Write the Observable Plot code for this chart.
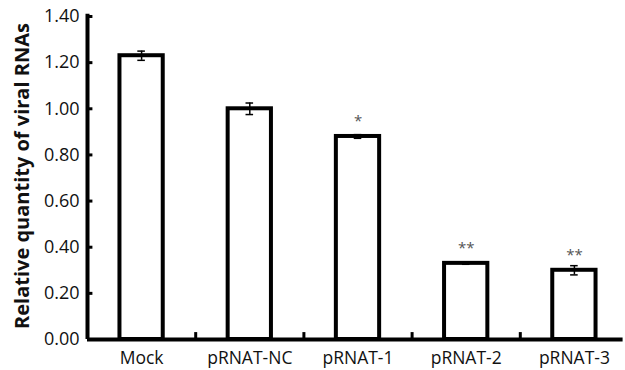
<!DOCTYPE html>
<html>
<head>
<meta charset="utf-8">
<script src="https://cdn.jsdelivr.net/npm/d3@7"></script>
<script src="https://cdn.jsdelivr.net/npm/@observablehq/plot@0.6"></script>
<style>
  body { margin: 0; background: #fff; }
  svg { font-family: "Open Sans", sans-serif; }
</style>
</head>
<body>
<div id="chart"></div>
<script>
const categories = ["Mock", "pRNAT-NC", "pRNAT-1", "pRNAT-2", "pRNAT-3"];
const values = [1.23, 1.00, 0.88, 0.33, 0.30];
const errors = [0.02, 0.025, 0.008, 0.004, 0.02];
const stars = ["", "", "*", "**", "**"];
const yTicks = [0, 0.2, 0.4, 0.6, 0.8, 1.0, 1.2, 1.4];

const data = categories.map((c, i) => ({i, c, v: values[i], e: errors[i], s: stars[i]}));
const halfBar = 0.2, cap = 0.035;
const boundaries = categories.slice(1).map((_, i) => i + 0.5);

const chart = Plot.plot({
  width: 625,
  height: 370,
  marginLeft: 87,
  marginRight: -3,
  marginTop: 16,
  marginBottom: 31,
  x: {domain: [-0.5, 4.5], axis: null},
  y: {domain: [0, 1.4], axis: null},
  marks: [
    Plot.rectY(data, {x1: d => d.i - halfBar, x2: d => d.i + halfBar, y1: 0, y2: "v", fill: "white", stroke: "black", strokeWidth: 4}),
    Plot.ruleX(data, {x: "i", y1: d => d.v - d.e, y2: d => d.v + d.e, stroke: "black", strokeWidth: 1.5}),
    Plot.ruleY(data, {y: d => d.v - d.e, x1: d => d.i - cap, x2: d => d.i + cap, stroke: "black", strokeWidth: 1.5}),
    Plot.ruleY(data, {y: d => d.v + d.e, x1: d => d.i - cap, x2: d => d.i + cap, stroke: "black", strokeWidth: 1.5}),
    Plot.text(data, {x: "i", y: "v", text: "s", dy: -15, fontSize: 15, fill: "#555"}),
    Plot.ruleY([0], {x1: -0.5, x2: 4.45, stroke: "black", strokeWidth: 4}),
    Plot.ruleX([-0.5], {y1: 0, y2: 1.41, stroke: "black", strokeWidth: 4}),
    Plot.ruleY(yTicks, {x1: -0.5, x2: -0.45, stroke: "black", strokeWidth: 3}),
    Plot.ruleX(boundaries, {y1: 0, y2: 0.03, stroke: "black", strokeWidth: 3}),
    Plot.text(yTicks, {x: -0.5, y: d => d, text: d => d3.format(".2f")(d), textAnchor: "end", dx: -8, fontSize: 18, fill: "#111"}),
    Plot.text(data, {x: "i", y: 0, text: "c", dy: 19, fontSize: 17.5, fill: "#111"}),
    Plot.text(["Relative quantity of viral RNAs"], {frameAnchor: "left", textAnchor: "middle", dx: -65, dy: -2, rotate: -90, fontSize: 20, fontWeight: "bold", fill: "#111"})
  ]
});
document.getElementById("chart").appendChild(chart);
</script>
</body>
</html>
